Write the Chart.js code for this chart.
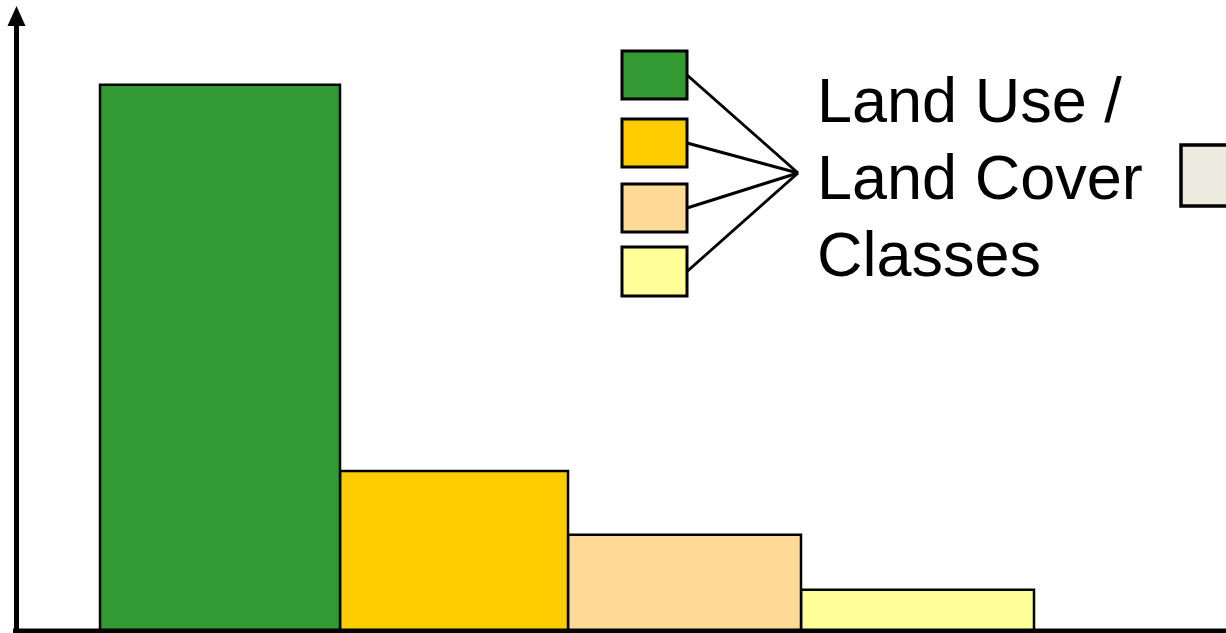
<!DOCTYPE html>
<html>
<head>
<meta charset="utf-8">
<script src="https://cdn.jsdelivr.net/npm/chart.js@4/dist/chart.umd.min.js"></script>
<style>
  html, body { margin: 0; padding: 0; background: #ffffff; }
  #wrap { width: 1226px; height: 633px; position: relative; }
</style>
</head>
<body>
<div id="wrap"><canvas id="c" width="1226" height="633"></canvas></div>
<script>
// ---- Data ----
const classes = ['Class 1', 'Class 2', 'Class 3', 'Class 4'];
const binEdges = [8.4, 32.4, 55.2, 78.5, 101.8];   // x edges of the bars
const heights = [87.4, 25.6, 15.4, 6.6];           // bar heights
const barColors = ['#339933', '#FFCC00', '#FFD996', '#FFFF99'];
const legendTitle = ['Land Use /', 'Land Cover', 'Classes'];
const extraBoxColor = '#EDEBE0';

// Build one closed polygon dataset per bar (variable-width histogram)
const datasets = classes.map((name, i) => ({
  label: name,
  data: [
    { x: binEdges[i], y: 0 },
    { x: binEdges[i], y: heights[i] },
    { x: binEdges[i + 1], y: heights[i] },
    { x: binEdges[i + 1], y: 0 }
  ],
  backgroundColor: barColors[i],
  borderColor: '#000000',
  borderWidth: 2.5,
  fill: 'origin',
  pointRadius: 0,
  tension: 0
}));

const decorPlugin = {
  id: 'decor',
  afterDatasetsDraw(chart) {
    const ctx = chart.ctx;
    const a = chart.chartArea;
    ctx.save();
    // y axis with arrow
    ctx.strokeStyle = '#000';
    ctx.fillStyle = '#000';
    ctx.lineWidth = 5;
    ctx.beginPath();
    ctx.moveTo(a.left + 0.5, a.bottom);
    ctx.lineTo(a.left + 0.5, a.top + 15);
    ctx.stroke();
    ctx.beginPath();
    ctx.moveTo(a.left + 0.5, a.top);
    ctx.lineTo(a.left - 8.5, a.top + 20);
    ctx.lineTo(a.left + 9.5, a.top + 20);
    ctx.closePath();
    ctx.fill();
    // x axis
    ctx.lineWidth = 5;
    ctx.beginPath();
    ctx.moveTo(a.left - 3, a.bottom);
    ctx.lineTo(a.right, a.bottom);
    ctx.stroke();

    // legend swatches
    const boxes = [[622, 51, 65, 48], [622, 119, 65, 48], [622, 184, 65, 48], [622, 247, 65, 49]];
    const hub = [798, 173];
    ctx.lineWidth = 3;
    boxes.forEach((b, i) => {
      ctx.beginPath();
      ctx.moveTo(b[0] + b[2], b[1] + b[3] / 2);
      ctx.lineTo(hub[0], hub[1]);
      ctx.stroke();
    });
    boxes.forEach((b, i) => {
      ctx.fillStyle = barColors[i];
      ctx.fillRect(b[0], b[1], b[2], b[3]);
      ctx.lineWidth = 3;
      ctx.strokeRect(b[0], b[1], b[2], b[3]);
    });
    // partially visible extra swatch on the right
    ctx.fillStyle = extraBoxColor;
    ctx.fillRect(1181, 145, 60, 61);
    ctx.lineWidth = 3.5;
    ctx.strokeRect(1181, 145, 60, 61);

    // legend title
    ctx.fillStyle = '#000';
    ctx.font = '63px "Liberation Sans", Arial, sans-serif';
    ctx.textBaseline = 'alphabetic';
    ctx.textAlign = 'left';
    const baselines = [122, 199, 276];
    legendTitle.forEach((t, i) => ctx.fillText(t, 817, baselines[i]));
    ctx.restore();
  }
};

new Chart(document.getElementById('c'), {
  type: 'line',
  data: { datasets },
  options: {
    responsive: false,
    animation: false,
    layout: { padding: { left: 16, top: 6, right: 0, bottom: 2 } },
    plugins: { legend: { display: false }, tooltip: { enabled: false } },
    scales: {
      x: { type: 'linear', min: 0, max: 121, display: false },
      y: { type: 'linear', min: 0, max: 100, display: false }
    }
  },
  plugins: [decorPlugin]
});
</script>
</body>
</html>
